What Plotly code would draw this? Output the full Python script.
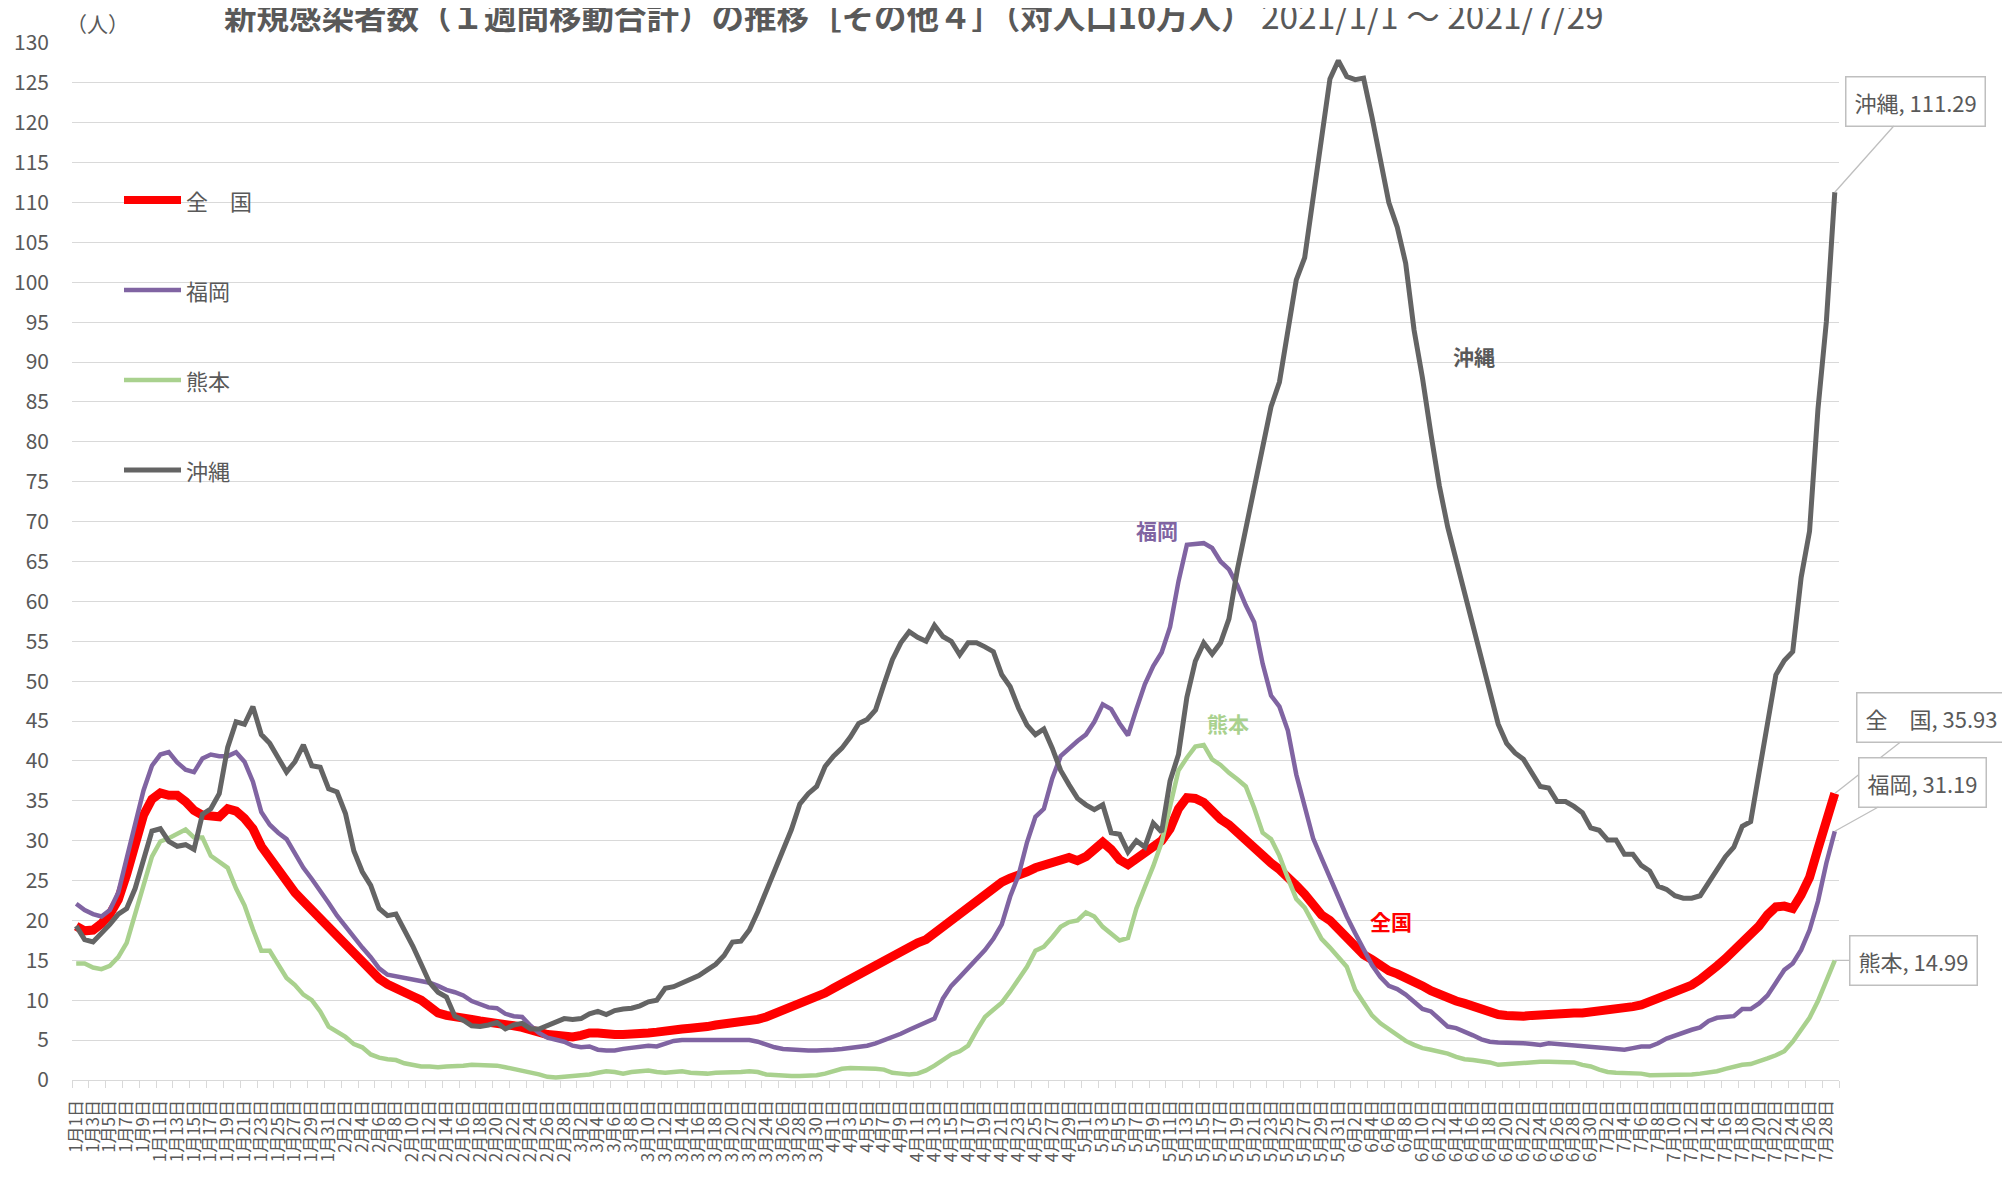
import plotly.graph_objects as go
import pandas as pd

# ---------------- data ----------------
dates = pd.date_range("2021-01-01", "2021-07-29", freq="D")
categories = [f"{d.month}月{d.day}日" for d in dates]
tick_labels = categories[::2]

series_names = ["全　国", "福岡", "熊本", "沖縄"]

zenkoku = [
    19.3, 18.7, 18.8, 19.6, 20.8, 22.6, 25.8, 29.8, 33.2, 35.2,
    36.0, 35.7, 35.7, 34.9, 33.8, 33.2, 33.0, 33.0, 34.0, 33.7,
    32.8, 31.5, 29.3, 27.8, 26.2, 24.8, 23.5, 22.4, 21.3, 20.0,
    19.0, 17.9, 16.8, 15.6, 14.5, 13.5, 12.7, 12.0, 11.6, 11.1,
    10.5, 10.0, 9.1, 8.4, 8.1, 8.0, 7.8, 7.6, 7.4, 7.3,
    7.2, 7.1, 6.8, 6.6, 6.2, 5.8, 5.7, 5.6, 5.5, 5.4,
    5.6, 5.9, 5.9, 5.7, 5.7, 5.7, 5.7, 5.8, 5.9, 6.0,
    6.2, 6.3, 6.4, 6.5, 6.5, 6.7, 6.9, 7.0, 7.1, 7.2,
    7.3, 7.6, 7.9, 8.3, 8.7, 9.1, 9.6, 10.0, 10.5, 10.9,
    11.5, 12.1, 12.6, 13.1, 13.6, 14.2, 14.8, 15.5, 16.3, 16.8,
    17.2, 17.6, 18.4, 19.1, 20.0, 20.8, 21.8, 22.5, 23.3, 24.1,
    24.8, 25.3, 25.6, 26.1, 26.6, 27.0, 27.3, 27.8, 27.9, 27.5,
    28.0, 28.9, 29.8, 28.9, 27.6, 27.0, 27.8, 28.6, 29.3, 30.0,
    31.5, 34.0, 35.4, 35.3, 34.8, 33.7, 32.7, 32.0, 31.0, 30.1,
    29.2, 28.1, 27.2, 26.4, 25.5, 24.4, 23.3, 22.1, 20.7, 20.0,
    18.9, 18.0, 16.7, 15.7, 15.1, 14.3, 13.7, 13.3, 12.9, 12.3,
    11.8, 11.2, 10.7, 10.2, 9.9, 9.6, 9.2, 8.7, 8.4, 8.2,
    8.1, 8.0, 8.0, 8.1, 8.2, 8.3, 8.4, 8.4, 8.4, 8.4,
    8.5, 8.6, 8.7, 8.8, 9.0, 9.2, 9.4, 9.8, 10.2, 10.6,
    11.0, 11.4, 11.9, 12.6, 13.3, 14.3, 15.2, 16.2, 17.1, 18.0,
    19.3, 20.7, 21.7, 21.8, 21.5, 23.2, 25.4, 29.0, 32.5, 35.93,
]

fukuoka = [
    22.1, 21.3, 20.8, 20.5, 21.3, 23.5, 27.8, 32.2, 36.3, 39.4,
    40.8, 41.1, 39.8, 38.9, 38.6, 40.3, 40.8, 40.6, 40.6, 41.1,
    39.9, 37.4, 33.6, 32.0, 31.0, 30.2, 28.4, 26.6, 25.2, 23.8,
    22.2, 20.6, 19.2, 17.9, 16.6, 15.4, 14.0, 13.2, 13.0, 12.9,
    12.6, 12.4, 12.2, 11.8, 11.3, 11.0, 10.6, 9.9, 9.5, 9.1,
    9.0, 8.3, 8.0, 7.9, 6.8, 5.9, 5.3, 5.0, 4.8, 4.3,
    4.1, 4.2, 3.8, 3.7, 3.7, 3.9, 4.0, 4.2, 4.3, 4.2,
    4.5, 4.9, 5.0, 5.0, 5.0, 5.0, 4.9, 4.9, 4.9, 4.9,
    5.0, 4.8, 4.4, 4.1, 3.9, 3.8, 3.7, 3.7, 3.7, 3.7,
    3.8, 3.9, 4.0, 4.1, 4.3, 4.6, 5.0, 5.3, 5.8, 6.3,
    6.8, 7.3, 7.7, 10.2, 11.8, 12.9, 14.0, 15.0, 16.3, 17.7,
    19.5, 23.0, 25.7, 29.8, 33.0, 34.0, 37.8, 40.6, 41.6, 42.5,
    43.3, 44.9, 47.1, 46.5, 44.7, 43.2, 46.5, 49.6, 51.9, 53.6,
    56.8, 62.5, 67.1, 67.2, 67.3, 66.7, 65.0, 64.0, 62.0, 59.5,
    57.4, 52.2, 48.2, 46.8, 43.8, 38.3, 34.1, 30.3, 27.8, 25.4,
    22.7, 20.5, 18.4, 16.5, 14.4, 12.9, 11.8, 11.4, 10.7, 9.8,
    8.9, 8.6, 7.6, 6.7, 6.5, 6.1, 5.6, 5.1, 4.8, 4.7,
    4.7, 4.6, 4.6, 4.5, 4.4, 4.6, 4.5, 4.4, 4.3, 4.2,
    4.1, 4.0, 3.9, 3.8, 3.8, 4.0, 4.2, 4.2, 4.6, 5.2,
    5.6, 5.9, 6.3, 6.6, 7.4, 7.8, 7.9, 8.0, 8.9, 8.9,
    9.6, 10.6, 12.2, 13.8, 14.6, 16.3, 18.8, 22.4, 27.2, 31.19,
]

kumamoto = [
    14.6, 14.6, 14.1, 13.9, 14.3, 15.4, 17.2, 20.6, 24.4, 28.0,
    29.9, 30.3, 30.8, 31.4, 30.4, 30.4, 28.1, 27.4, 26.6, 24.0,
    21.9, 18.9, 16.2, 16.2, 14.5, 12.8, 11.9, 10.7, 10.0, 8.6,
    6.7, 6.0, 5.4, 4.5, 4.1, 3.2, 2.8, 2.6, 2.5, 2.1,
    1.9, 1.7, 1.7, 1.6, 1.7, 1.7, 1.8, 1.9, 1.9, 1.8,
    1.8, 1.6, 1.4, 1.2, 0.9, 0.7, 0.4, 0.3, 0.4, 0.5,
    0.5, 0.7, 0.9, 1.1, 1.0, 0.8, 1.0, 1.1, 1.2, 1.0,
    0.9, 1.0, 1.1, 0.9, 0.8, 0.8, 0.9, 0.9, 0.9, 1.0,
    1.1, 1.0, 0.7, 0.6, 0.5, 0.5, 0.5, 0.5, 0.6, 0.8,
    1.1, 1.4, 1.5, 1.5, 1.5, 1.4, 1.3, 0.9, 0.8, 0.7,
    0.8, 1.2, 1.8, 2.5, 3.2, 3.6, 4.3, 6.2, 7.9, 8.8,
    9.7, 11.1, 12.6, 14.2, 16.2, 16.7, 17.9, 19.2, 19.8, 20.0,
    21.0, 20.5, 19.2, 18.3, 17.5, 17.8, 21.5, 24.2, 26.8, 29.8,
    34.1, 38.8, 40.4, 41.8, 42.0, 40.2, 39.5, 38.5, 37.7, 36.8,
    34.1, 31.0, 30.2, 28.1, 25.3, 22.7, 21.6, 19.7, 17.7, 16.6,
    15.3, 14.2, 11.3, 9.6, 8.1, 7.1, 6.4, 5.7, 4.9, 4.4,
    4.0, 3.8, 3.6, 3.3, 2.9, 2.6, 2.5, 2.4, 2.2, 1.9,
    2.0, 2.1, 2.2, 2.3, 2.3, 2.3, 2.3, 2.3, 2.2, 1.9,
    1.7, 1.3, 1.0, 0.9, 0.85, 0.85, 0.8, 0.6, 0.6, 0.6,
    0.6, 0.6, 0.7, 0.8, 0.9, 1.1, 1.4, 1.7, 1.9, 2.0,
    2.3, 2.7, 3.1, 3.6, 4.8, 6.3, 7.8, 9.9, 12.5, 14.99,
]

okinawa = [
    19.3, 17.6, 17.3, 18.3, 19.5, 20.8, 21.5, 24.0, 27.8, 31.2,
    31.5, 29.9, 29.3, 29.5, 28.9, 33.3, 34.0, 35.9, 41.7, 44.9,
    44.6, 46.8, 43.3, 42.2, 40.4, 38.6, 39.9, 42.0, 39.4, 39.2,
    36.5, 36.1, 33.4, 28.7, 26.1, 24.4, 21.5, 20.6, 20.8, 18.9,
    16.8, 14.5, 12.2, 11.0, 10.4, 8.0, 7.5, 6.8, 6.7, 6.9,
    7.2, 6.4, 6.9, 7.1, 6.4, 6.4, 6.8, 7.3, 7.7, 7.6,
    7.7, 8.3, 8.6, 8.2, 8.7, 8.9, 9.0, 9.3, 9.8, 10.0,
    11.5, 11.7, 12.2, 12.6, 13.1, 13.8, 14.5, 15.6, 17.3, 17.4,
    18.8, 21.1, 23.6, 26.1, 28.7, 31.4, 34.6, 35.9, 36.8, 39.3,
    40.6, 41.6, 43.0, 44.7, 45.2, 46.4, 49.6, 52.7, 54.8, 56.2,
    55.5, 55.0, 57.0, 55.6, 55.0, 53.3, 54.8, 54.8, 54.3, 53.7,
    50.8, 49.3, 46.6, 44.5, 43.3, 44.0, 41.6, 38.8, 37.0, 35.3,
    34.5, 33.9, 34.5, 31.0, 30.8, 28.6, 30.0, 29.2, 32.2, 31.1,
    37.5, 40.8, 48.0, 52.5, 54.8, 53.4, 54.8, 57.8, 64.0, 69.2,
    73.9, 79.5, 84.4, 87.5, 93.8, 100.3, 103.1, 110.3, 117.5, 125.5,
    127.8, 125.8, 125.4, 125.6, 120.7, 115.0, 110.0, 106.9, 102.4, 94.0,
    88.0, 81.0, 74.5, 69.3, 65.2, 61.5, 57.3, 52.8, 48.7, 44.6,
    42.2, 41.0, 40.2, 38.5, 36.8, 36.6, 34.9, 34.9, 34.3, 33.5,
    31.6, 31.3, 30.1, 30.1, 28.3, 28.3, 26.9, 26.2, 24.3, 23.9,
    23.1, 22.8, 22.8, 23.1, 24.7, 26.5, 28.0, 29.2, 31.8, 32.4,
    38.3, 44.5, 50.8, 52.6, 53.7, 63.0, 68.8, 84.1, 95.1, 111.29,
]

y_ticks = list(range(0, 131, 5))

# ---------------- styling ----------------
# the page has an 8px body margin, so the figure is drawn 8px smaller and all
# reference pixel positions are shifted by OFF
OFF = 8
W, H = 2010 - OFF, 1179 - OFF
PLOT_L, PLOT_R, PLOT_T, PLOT_B = 72, 1839, 43, 1080   # reference page pixels
L = PLOT_L - OFF
T = PLOT_T - OFF
R = W - (PLOT_R - OFF)
B = H - (PLOT_B - OFF)
PW, PH = W - L - R, H - T - B

JP = "Noto Sans CJK JP, Noto Sans, sans-serif"
NUM = "Liberation Sans Narrow, Noto Sans CJK JP, sans-serif"
TXT = "#595959"

colors = ["#FF0000", "#8064A2", "#A9D18E", "#646464"]
widths = [9, 4.5, 4.5, 5]
series = [zenkoku, fukuoka, kumamoto, okinawa]

x = list(range(len(categories)))


def px_x(px):  # reference page pixel -> paper x
    return (px - OFF - L) / PW


def px_y(py):  # reference page pixel -> paper y
    return 1 - (py - OFF - T) / PH


fig = go.Figure()
for name, vals, col, w in zip(series_names, series, colors, widths):
    fig.add_trace(go.Scatter(
        x=x, y=vals, mode="lines", name=name,
        line=dict(color=col, width=w),
        customdata=categories,
        hovertemplate="%{customdata}: %{y}<extra>" + name + "</extra>",
        showlegend=False,
    ))

annotations = []
shapes = []

# title (clipped at the top of the page, as in the reference)
annotations.append(dict(
    xref="paper", yref="paper", x=px_x(222), y=px_y(15),
    xanchor="left", yanchor="middle", showarrow=False,
    text="<b>新規感染者数（１週間移動合計）の推移［その他４］（対人口10万人）</b> "
         "<span style='font-size:33.5px'>2021/1/1 ～ 2021/7/29</span>",
    font=dict(family=JP, size=32.5, color=TXT),
))
# unit
annotations.append(dict(
    xref="paper", yref="paper", x=px_x(97), y=px_y(23),
    xanchor="center", yanchor="middle", showarrow=False,
    text="（人）", font=dict(family=JP, size=21, color=TXT),
))

# legend (line sample + label), placed like the reference
legend_y = [200, 290, 380, 470]
for name, col, w, ly in zip(series_names, colors, widths, legend_y):
    shapes.append(dict(
        type="line", xref="paper", yref="paper",
        x0=px_x(124), x1=px_x(181), y0=px_y(ly), y1=px_y(ly),
        line=dict(color=col, width=w if w < 8 else 8),
    ))
    annotations.append(dict(
        xref="paper", yref="paper", x=px_x(184), y=px_y(ly),
        xanchor="left", yanchor="middle", showarrow=False,
        text=name, font=dict(family=JP, size=22, color=TXT),
    ))

# end-point callouts
offsets = [(97, -76), (88, -49), (79, 0), (81, -91)]
for name, vals, (ax, ay) in zip(series_names, series, offsets):
    annotations.append(dict(
        x=x[-1], y=vals[-1], xref="x", yref="y",
        text=f"{name}, {vals[-1]:.2f}",
        showarrow=True, arrowhead=0, arrowwidth=1.3, arrowcolor="#BFBFBF",
        ax=ax, ay=ay, standoff=0,
        bgcolor="white", bordercolor="#BFBFBF", borderwidth=1.5, borderpad=8,
        font=dict(family=JP, size=22, color=TXT),
    ))

# in-chart series labels
inline = [("全国", 156.3, 19.9, colors[0]),
          ("福岡", 128.5, 69.0, colors[1]),
          ("熊本", 136.9, 44.8, colors[2]),
          ("沖縄", 166.1, 90.7, TXT)]
for txt, xi, yv, col in inline:
    annotations.append(dict(
        x=xi, y=yv, xref="x", yref="y", showarrow=False,
        text=f"<b>{txt}</b>", font=dict(family=JP, size=21, color=col),
    ))

fig.update_layout(
    width=W, height=H,
    margin=dict(l=L, r=R, t=T, b=B, pad=0, autoexpand=False),
    paper_bgcolor="white", plot_bgcolor="white",
    showlegend=False,
    annotations=annotations,
    shapes=shapes,
    font=dict(family=JP, color=TXT),
)

fig.update_xaxes(
    automargin=False,
    range=[-0.5, len(categories) - 0.5],
    tickmode="array", tickvals=x[::2], ticktext=tick_labels,
    tickangle=-90, ticks="", ticklabelstandoff=12,
    tickfont=dict(family=JP, size=17, color=TXT),
    showgrid=False, zeroline=False,
    showline=True, linecolor="#D9D9D9", linewidth=1.3,
    minor=dict(ticks="outside", tickmode="array",
               tickvals=[v - 0.5 for v in x[::2]] + [len(categories) - 0.5],
               ticklen=7, tickcolor="#D9D9D9", tickwidth=1.3, showgrid=False),
)
fig.update_yaxes(
    automargin=False,
    range=[0, 130], tickmode="array", tickvals=y_ticks,
    showgrid=True, gridcolor="#D9D9D9", gridwidth=1.3,
    zeroline=False, showline=False, ticks="",
    ticklabelstandoff=22,
    tickfont=dict(family=NUM, size=21, color=TXT),
)

fig.write_html("out.html")
